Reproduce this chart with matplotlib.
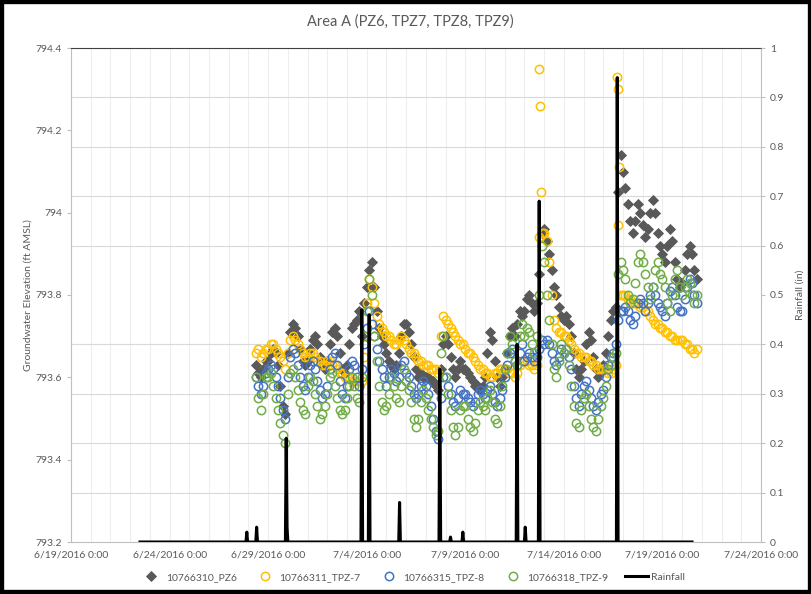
import numpy as np
import pandas as pd
import matplotlib
matplotlib.use("Agg")
import matplotlib.pyplot as plt
import matplotlib.dates as mdates
from matplotlib.patches import Rectangle
from matplotlib.ticker import FuncFormatter

plt.rcParams['font.family'] = ['Lato', 'DejaVu Sans']

# ---------------- text ----------------
title = "Area A (PZ6, TPZ7, TPZ8, TPZ9)"
name_pz6 = "10766310_PZ6"
name_tpz7 = "10766311_TPZ-7"
name_tpz8 = "10766315_TPZ-8"
name_tpz9 = "10766318_TPZ-9"
name_rain = "Rainfall"
ylabel_left = "Groundwater Elevation (ft AMSL)"
ylabel_right = "Rainfall (in)"

# ---------------- groundwater data (3-hourly, 6/28 09:00 -> 7/20 18:00) ----------------
gw_start = "2016-06-28 09:00"
gw_step = "3h"

pz6 = [
    [793.63, 793.61, 793.60, 793.62, 793.64],                           # 6/28
    [793.64, 793.66, 793.67, 793.66, 793.63, 793.58, 793.53, 793.51],   # 6/29
    [793.66, 793.71, 793.73, 793.72, 793.70, 793.67, 793.64, 793.63],   # 6/30
    [793.64, 793.67, 793.69, 793.70, 793.68, 793.65, 793.63, 793.62],   # 7/1
    [793.64, 793.68, 793.71, 793.72, 793.70, 793.66, 793.62, 793.61],   # 7/2
    [793.63, 793.68, 793.72, 793.73, 793.74, 793.76, 793.70, 793.78],   # 7/3
    [793.82, 793.86, 793.88, 793.82, 793.76, 793.72, 793.70, 793.68],   # 7/4
    [793.66, 793.64, 793.63, 793.62, 793.63, 793.66, 793.70, 793.73],   # 7/5
    [793.73, 793.71, 793.68, 793.65, 793.62, 793.60, 793.61, 793.60],   # 7/6
    [793.60, 793.60, 793.59, 793.59, 793.58, 793.57, 793.62, 793.68],   # 7/7
    [793.70, 793.68, 793.65, 793.62, 793.60, 793.62, 793.64, 793.62],   # 7/8
    [793.62, 793.61, 793.60, 793.59, 793.58, 793.58, 793.57, 793.58],   # 7/9
    [793.60, 793.66, 793.71, 793.69, 793.64, 793.60, 793.58, 793.60],   # 7/10
    [793.62, 793.66, 793.70, 793.72, 793.70, 793.73, 793.76, 793.75],   # 7/11
    [793.76, 793.79, 793.80, 793.78, 793.76, 793.78, 793.85, 793.95],   # 7/12
    [793.96, 793.93, 793.90, 793.86, 793.82, 793.80, 793.77, 793.75],   # 7/13
    [793.74, 793.75, 793.73, 793.70, 793.66, 793.62, 793.60, 793.62],   # 7/14
    [793.64, 793.68, 793.71, 793.69, 793.65, 793.62, 793.60, 793.61],   # 7/15
    [793.63, 793.66, 793.70, 793.74, 793.76, 793.77, 794.05, 794.14],   # 7/16
    [794.10, 794.06, 794.02, 793.98, 793.95, 793.98, 794.02, 794.00],   # 7/17
    [793.97, 793.94, 793.96, 794.00, 794.03, 794.00, 793.95, 793.92],   # 7/18
    [793.90, 793.88, 793.92, 793.96, 793.93, 793.88, 793.84, 793.82],   # 7/19
    [793.83, 793.86, 793.90, 793.92, 793.90, 793.86, 793.84],           # 7/20
]

tpz7 = [
    [793.66, 793.67, 793.65, 793.66, 793.67],
    [793.67, 793.68, 793.68, 793.67, 793.66, 793.65, 793.64, 793.62],
    [793.66, 793.69, 793.70, 793.69, 793.68, 793.67, 793.66, 793.65],
    [793.65, 793.66, 793.66, 793.65, 793.64, 793.64, 793.63, 793.63],
    [793.64, 793.64, 793.63, 793.63, 793.62, 793.61, 793.61, 793.60],
    [793.60, 793.60, 793.59, 793.59, 793.59, 793.58, 793.59, 793.65],
    [793.78, 793.84, 793.82, 793.78, 793.75, 793.73, 793.72, 793.71],
    [793.70, 793.70, 793.69, 793.68, 793.68, 793.69, 793.70, 793.69],
    [793.68, 793.67, 793.66, 793.66, 793.65, 793.64, 793.64, 793.63],
    [793.63, 793.63, 793.62, 793.62, 793.62, 793.61, 793.70, 793.75],
    [793.74, 793.73, 793.72, 793.71, 793.70, 793.69, 793.68, 793.68],
    [793.67, 793.66, 793.66, 793.65, 793.64, 793.63, 793.62, 793.62],
    [793.61, 793.61, 793.60, 793.60, 793.61, 793.61, 793.62, 793.62],
    [793.62, 793.62, 793.61, 793.61, 793.60, 793.61, 793.63, 793.64],
    [793.64, 793.64, 793.63, 793.63, 793.62, 793.63, 793.94, 793.95],
    [793.95, 793.93, 793.88, 793.80, 793.74, 793.72, 793.71, 793.71],
    [793.70, 793.70, 793.69, 793.68, 793.67, 793.66, 793.66, 793.65],
    [793.65, 793.65, 793.64, 793.64, 793.63, 793.63, 793.62, 793.62],
    [793.62, 793.62, 793.61, 793.61, 793.62, 793.63, 793.97, 793.80],
    [793.80, 793.80, 793.79, 793.79, 793.78, 793.78, 793.78, 793.77],
    [793.77, 793.76, 793.76, 793.75, 793.74, 793.73, 793.73, 793.72],
    [793.72, 793.71, 793.71, 793.70, 793.70, 793.69, 793.69, 793.69],
    [793.69, 793.68, 793.68, 793.67, 793.67, 793.66, 793.67],
]

# isolated TPZ-7 readings right after the two biggest storms
tpz7_extra_times = ["2016-07-12 18:00", "2016-07-12 19:00", "2016-07-12 20:00",
                    "2016-07-16 17:00", "2016-07-16 18:00", "2016-07-16 19:00"]
tpz7_extra_values = [794.35, 794.26, 794.05, 794.33, 794.30, 794.11]

tpz8 = [
    [793.60, 793.58, 793.56, 793.58, 793.61],
    [793.62, 793.63, 793.62, 793.60, 793.58, 793.55, 793.52, 793.50],
    [793.60, 793.65, 793.67, 793.66, 793.63, 793.60, 793.58, 793.57],
    [793.60, 793.63, 793.64, 793.62, 793.59, 793.57, 793.55, 793.56],
    [793.58, 793.62, 793.65, 793.66, 793.63, 793.59, 793.56, 793.55],
    [793.58, 793.62, 793.64, 793.63, 793.60, 793.58, 793.62, 793.68],
    [793.72, 793.76, 793.73, 793.70, 793.67, 793.64, 793.62, 793.60],
    [793.58, 793.60, 793.62, 793.61, 793.59, 793.60, 793.63, 793.64],
    [793.61, 793.60, 793.58, 793.56, 793.55, 793.56, 793.58, 793.59],
    [793.58, 793.56, 793.53, 793.50, 793.47, 793.45, 793.55, 793.60],
    [793.60, 793.58, 793.56, 793.54, 793.53, 793.55, 793.57, 793.56],
    [793.56, 793.55, 793.54, 793.53, 793.54, 793.56, 793.57, 793.56],
    [793.55, 793.57, 793.58, 793.56, 793.54, 793.53, 793.55, 793.57],
    [793.60, 793.63, 793.66, 793.67, 793.64, 793.63, 793.66, 793.68],
    [793.64, 793.65, 793.66, 793.65, 793.64, 793.65, 793.67, 793.69],
    [793.68, 793.69, 793.68, 793.66, 793.64, 793.63, 793.65, 793.67],
    [793.66, 793.67, 793.65, 793.62, 793.58, 793.55, 793.53, 793.56],
    [793.58, 793.59, 793.57, 793.55, 793.53, 793.52, 793.54, 793.56],
    [793.57, 793.60, 793.63, 793.65, 793.66, 793.68, 793.74, 793.76],
    [793.76, 793.77, 793.76, 793.74, 793.73, 793.75, 793.78, 793.79],
    [793.78, 793.76, 793.78, 793.80, 793.82, 793.80, 793.78, 793.77],
    [793.76, 793.75, 793.78, 793.81, 793.82, 793.80, 793.77, 793.76],
    [793.76, 793.79, 793.82, 793.84, 793.83, 793.80, 793.78],
]

tpz9 = [
    [793.60, 793.55, 793.52, 793.56, 793.60],
    [793.60, 793.61, 793.58, 793.55, 793.52, 793.49, 793.46, 793.44],
    [793.56, 793.61, 793.62, 793.60, 793.57, 793.54, 793.52, 793.51],
    [793.58, 793.60, 793.59, 793.56, 793.53, 793.50, 793.51, 793.53],
    [793.56, 793.60, 793.61, 793.58, 793.55, 793.52, 793.51, 793.52],
    [793.55, 793.58, 793.60, 793.58, 793.55, 793.54, 793.60, 793.70],
    [793.76, 793.84, 793.80, 793.70, 793.64, 793.58, 793.54, 793.52],
    [793.53, 793.56, 793.60, 793.58, 793.55, 793.54, 793.58, 793.62],
    [793.59, 793.57, 793.54, 793.50, 793.48, 793.50, 793.54, 793.57],
    [793.55, 793.52, 793.50, 793.48, 793.46, 793.47, 793.66, 793.70],
    [793.60, 793.56, 793.52, 793.48, 793.46, 793.48, 793.52, 793.53],
    [793.53, 793.50, 793.48, 793.47, 793.49, 793.52, 793.54, 793.53],
    [793.52, 793.55, 793.57, 793.54, 793.50, 793.49, 793.53, 793.58],
    [793.62, 793.66, 793.70, 793.68, 793.64, 793.63, 793.70, 793.73],
    [793.70, 793.72, 793.71, 793.68, 793.66, 793.70, 793.80, 793.92],
    [793.88, 793.80, 793.74, 793.68, 793.62, 793.60, 793.64, 793.68],
    [793.66, 793.67, 793.63, 793.58, 793.53, 793.49, 793.48, 793.52],
    [793.55, 793.56, 793.53, 793.50, 793.48, 793.47, 793.50, 793.53],
    [793.55, 793.58, 793.62, 793.63, 793.65, 793.66, 793.85, 793.88],
    [793.86, 793.84, 793.80, 793.78, 793.79, 793.83, 793.88, 793.90],
    [793.88, 793.85, 793.82, 793.79, 793.82, 793.86, 793.88, 793.85],
    [793.84, 793.82, 793.78, 793.76, 793.80, 793.84, 793.86, 793.82],
    [793.80, 793.82, 793.84, 793.83, 793.80, 793.78, 793.80],
]

# ---------------- rainfall (hourly record, 6/22 12:00 -> 7/20 12:00) ----------------
rain_start = "2016-06-22 12:00"
rain_end = "2016-07-20 12:00"
rain_event_times = ["2016-06-27 22:00", "2016-06-28 10:00", "2016-06-29 22:00", "2016-06-29 23:00",
                    "2016-07-03 18:00", "2016-07-04 03:00", "2016-07-05 16:00", "2016-07-07 17:00",
                    "2016-07-08 06:00", "2016-07-08 21:00", "2016-07-11 15:00", "2016-07-12 01:00",
                    "2016-07-12 18:00", "2016-07-16 17:00"]
rain_event_values = [0.02, 0.03, 0.21, 0.03,
                     0.47, 0.46, 0.08, 0.35,
                     0.01, 0.02, 0.40, 0.03,
                     0.69, 0.94]

# ---------------- build ----------------
def flat(days):
    return [v for d in days for v in d]

series = [(name_pz6, flat(pz6)), (name_tpz7, flat(tpz7)),
          (name_tpz8, flat(tpz8)), (name_tpz9, flat(tpz9))]
n = len(series[0][1])
gw_times = pd.date_range(gw_start, periods=n, freq=gw_step)

rain_times = pd.date_range(rain_start, rain_end, freq="1h")
rain_vals = pd.Series(0.0, index=rain_times)
for t, v in zip(rain_event_times, rain_event_values):
    rain_vals[pd.Timestamp(t)] = v

W, H = 812, 594
fig = plt.figure(figsize=(W / 100, H / 100), dpi=100)
ax = fig.add_axes([71 / W, 1 - 542 / H, (761 - 71) / W, (542 - 48) / H])

txt = "#595959"
grid_major = "#D9D9D9"
grid_minor = "#EEEEEE"

styles = {
    name_pz6: dict(marker="D", color="#595959", mfc="#595959", mec="#595959", ms=5.0, mew=0.6),
    name_tpz7: dict(marker="o", color="#FFC000", mfc="none", mec="#FFC000", ms=6.0, mew=1.1),
    name_tpz8: dict(marker="o", color="#4472C4", mfc="none", mec="#4472C4", ms=6.0, mew=1.1),
    name_tpz9: dict(marker="o", color="#70AD47", mfc="none", mec="#70AD47", ms=6.0, mew=1.1),
}

handles = []
for name, vals in series:
    h, = ax.plot(gw_times, vals, linestyle="none", label=name, **styles[name])
    if name == name_tpz7:
        ax.plot(pd.to_datetime(tpz7_extra_times), tpz7_extra_values, linestyle="none",
                **styles[name])
    handles.append(h)

x0, x1 = pd.Timestamp("2016-06-19"), pd.Timestamp("2016-07-24")
ax.set_xlim(x0, x1)
ax.set_ylim(793.2, 794.4)
ax.set_yticks(np.round(np.arange(793.2, 794.41, 0.2), 1))
ax.yaxis.set_major_formatter(FuncFormatter(lambda v, p: f"{round(v, 1):g}"))
ax.set_yticks(np.linspace(793.2, 794.4, 11), minor=True)

xt = pd.date_range(x0, x1, freq="5D")
ax.set_xticks(xt)
ax.set_xticklabels([f"{d.month}/{d.day}/{d.year} 0:00" for d in xt])
ax.set_xticks(pd.date_range(x0, x1, freq="1D"), minor=True)

ax.grid(which="major", axis="x", color=grid_minor, lw=0.8)
ax.grid(which="minor", axis="x", color=grid_minor, lw=0.8)
ax.grid(which="minor", axis="y", color=grid_major, lw=0.8)
ax.set_axisbelow(True)
ax.tick_params(axis="both", which="minor", length=0)
ax.tick_params(axis="x", which="major", length=0, labelsize=7.5, colors=txt, pad=6)
ax.tick_params(axis="y", which="major", length=3, color="#BFBFBF", labelsize=7.5, labelcolor=txt)

for s in ["left", "right", "bottom"]:
    ax.spines[s].set_color("#BFBFBF")
ax.spines["top"].set_color("#404040")

ax.set_ylabel(ylabel_left, color=txt, fontsize=7.5, labelpad=2)

ax2 = ax.twinx()
rh, = ax2.plot(rain_vals.index, rain_vals.values, color="black", lw=2.2, label=name_rain)
ax2.set_ylim(0, 1)
ax2.set_yticks(np.round(np.arange(0, 1.01, 0.1), 1))
ax2.yaxis.set_major_formatter(FuncFormatter(lambda v, p: f"{round(v, 1):g}"))
ax2.tick_params(axis="y", length=3, color="#BFBFBF", labelsize=7.5, labelcolor=txt)
for s in ax2.spines.values():
    s.set_visible(False)
ax2.set_ylabel(ylabel_right, color=txt, fontsize=7.5, labelpad=8)
handles.append(rh)

fig.text(0.505, 1 - 22 / H, title, ha="center", va="center", fontsize=10.5, color=txt)

leg = fig.legend(handles=handles, loc="center", bbox_to_anchor=(0.508, 1 - 577 / H), ncol=5,
                 frameon=False, fontsize=7.5, handlelength=2.2, handletextpad=0.3,
                 columnspacing=1.6, labelcolor=txt)

fig.patches.append(Rectangle((0, 0), 1, 1, transform=fig.transFigure, fill=False,
                             edgecolor="black", lw=6, clip_on=True))

fig.savefig("out.png", dpi=100)
